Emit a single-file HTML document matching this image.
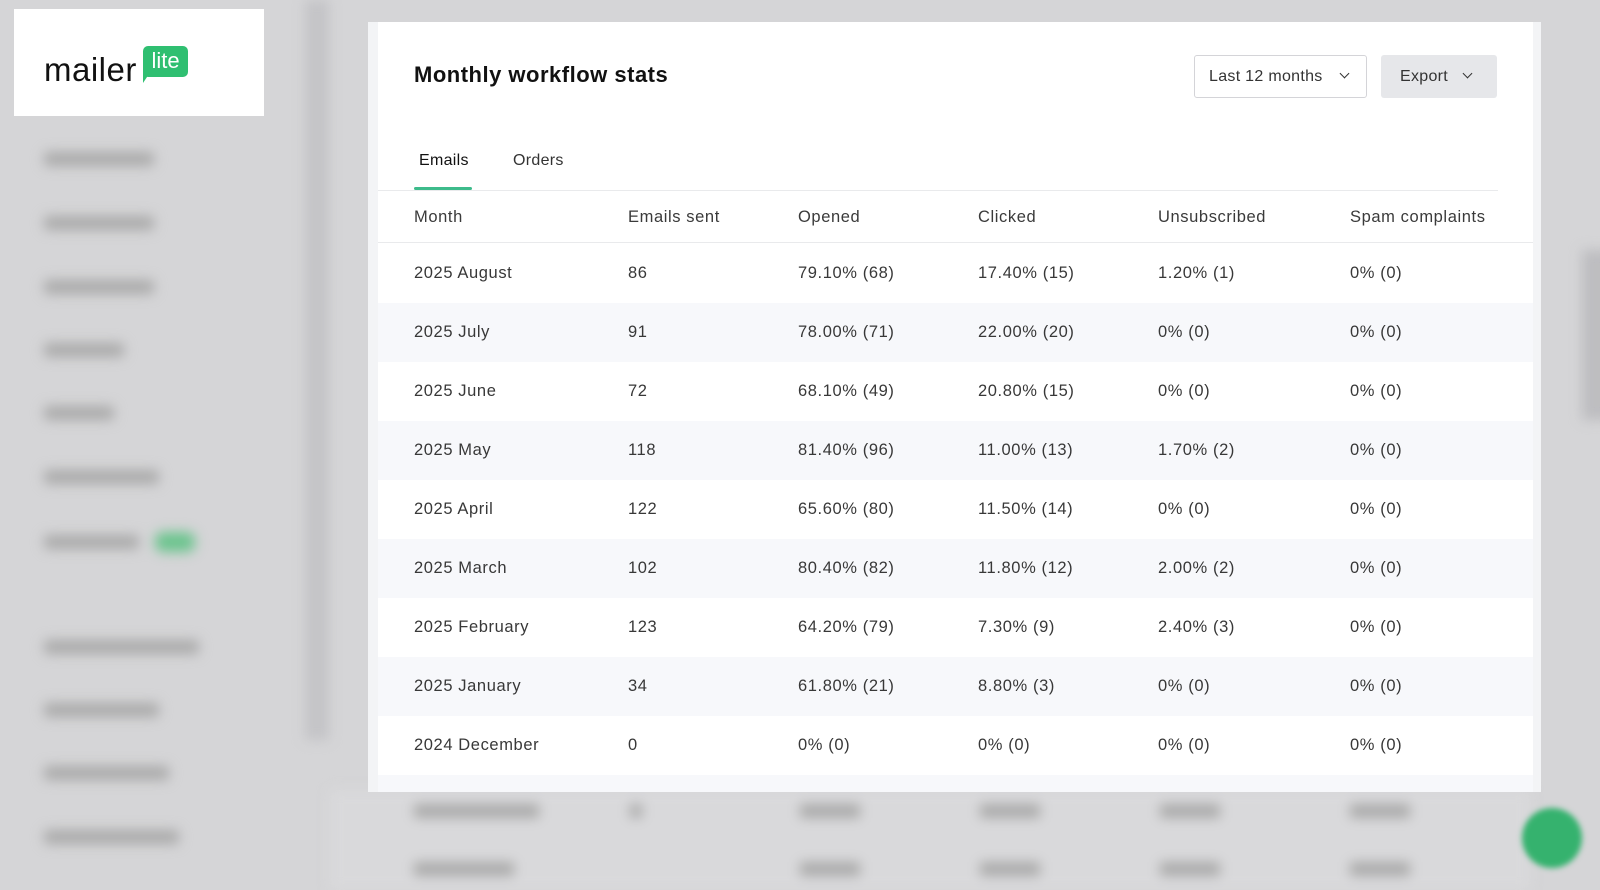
<!DOCTYPE html>
<html><head><meta charset="utf-8"><style>
*{margin:0;padding:0;box-sizing:border-box}
body{width:1600px;height:886px;background:#d5d5d7;position:relative;overflow:hidden;font-family:"Liberation Sans",sans-serif;color:#333}
.blur{filter:blur(6px);position:absolute}
.logo{position:absolute;left:14px;top:9px;width:250px;height:107px;background:#fff}
.logo .m{position:absolute;left:30px;top:42px;font-size:33px;color:#111;letter-spacing:0.5px}
.logo .l{position:absolute;left:129px;top:37px;width:45px;height:31px;background:#2fbf71;color:#fff;border-radius:5px;font-size:22px;text-align:center;line-height:29px}
.logo .t{position:absolute;left:129px;top:62px;width:0;height:0;border-left:8px solid #2fbf71;border-bottom:12px solid transparent}
.panel{position:absolute;left:368px;top:22px;width:1173px;height:770px;background:#f3f4f6}
.inner{position:absolute;left:10px;top:0;width:1155px;height:770px;background:#fff;overflow:hidden}
.title{position:absolute;left:36px;top:40px;font-size:22px;font-weight:bold;color:#111;letter-spacing:0.5px}
.sel{position:absolute;left:816px;top:33px;width:173px;height:43px;border:1px solid #d4d4d8;border-radius:3px;font-size:16px;line-height:41px;padding-left:14px;color:#333;letter-spacing:0.3px}
.exp{position:absolute;left:1003px;top:33px;width:116px;height:43px;background:#e6e7ea;border-radius:3px;font-size:16px;line-height:43px;padding-left:19px;color:#333;letter-spacing:0.3px}
.chev{position:absolute;top:15px;width:7px;height:7px;border-right:1.6px solid #333;border-bottom:1.6px solid #333;transform:rotate(45deg)}
.tab{position:absolute;top:130px;font-size:16px;color:#333;letter-spacing:0.3px}
.ul{position:absolute;left:36px;top:165px;width:58px;height:3px;background:#3dbb8b;border-radius:2px}
.div{position:absolute;left:0;top:168px;width:1120px;height:1px;background:#e9eaec}
.row{position:absolute;left:0;width:1155px;height:59px;font-size:16.5px;color:#383838;letter-spacing:0.6px}
.row span{position:absolute;top:0;line-height:59px;white-space:nowrap}
.hd{top:170px;height:51px;border-bottom:1px solid #e9eaec}
.hd span{line-height:51px;color:#3a3a3a}
.s{background:#f7f8fb}
</style></head><body>
<div class="blur" style="left:40px;top:150px;width:260px;height:700px">
<div style="position:absolute;left:4px;top:2px;width:110px;height:14px;background:#aaa;border-radius:4px"></div>
<div style="position:absolute;left:4px;top:66px;width:110px;height:14px;background:#aaa;border-radius:4px"></div>
<div style="position:absolute;left:4px;top:130px;width:110px;height:14px;background:#aaa;border-radius:4px"></div>
<div style="position:absolute;left:4px;top:193px;width:80px;height:14px;background:#aaa;border-radius:4px"></div>
<div style="position:absolute;left:4px;top:256px;width:70px;height:14px;background:#aaa;border-radius:4px"></div>
<div style="position:absolute;left:4px;top:320px;width:115px;height:14px;background:#aaa;border-radius:4px"></div>
<div style="position:absolute;left:4px;top:385px;width:95px;height:14px;background:#aaa;border-radius:4px"></div>
<div style="position:absolute;left:115px;top:382px;width:40px;height:20px;background:#6cc48e;border-radius:8px"></div>
<div style="position:absolute;left:4px;top:490px;width:155px;height:14px;background:#aaa;border-radius:4px"></div>
<div style="position:absolute;left:4px;top:553px;width:115px;height:14px;background:#aaa;border-radius:4px"></div>
<div style="position:absolute;left:4px;top:616px;width:125px;height:14px;background:#aaa;border-radius:4px"></div>
<div style="position:absolute;left:4px;top:680px;width:135px;height:14px;background:#aaa;border-radius:4px"></div>
</div>
<div class="blur" style="left:305px;top:0;width:24px;height:740px;background:#c4c4c7"></div>
<div class="blur" style="left:330px;top:790px;width:1200px;height:100px;background:#d9d9db">
<div style="position:absolute;left:84px;top:14px;width:125px;height:14px;background:#aaa"></div>
<div style="position:absolute;left:84px;top:72px;width:100px;height:14px;background:#aaa"></div>
<div style="position:absolute;left:300px;top:14px;width:12px;height:14px;background:#aaa"></div>
<div style="position:absolute;left:470px;top:14px;width:60px;height:14px;background:#aaa"></div>
<div style="position:absolute;left:650px;top:14px;width:60px;height:14px;background:#aaa"></div>
<div style="position:absolute;left:830px;top:14px;width:60px;height:14px;background:#aaa"></div>
<div style="position:absolute;left:1020px;top:14px;width:60px;height:14px;background:#aaa"></div>
<div style="position:absolute;left:470px;top:72px;width:60px;height:14px;background:#aaa"></div>
<div style="position:absolute;left:650px;top:72px;width:60px;height:14px;background:#aaa"></div>
<div style="position:absolute;left:830px;top:72px;width:60px;height:14px;background:#aaa"></div>
<div style="position:absolute;left:1020px;top:72px;width:60px;height:14px;background:#aaa"></div>
</div>
<div class="blur" style="left:1582px;top:250px;width:30px;height:170px;background:#bdbdc0"></div>
<div class="blur" style="left:1522px;top:808px;width:60px;height:60px;border-radius:50%;background:#35b26e;filter:blur(3px)"></div>
<div class="logo"><div class="m">mailer</div><div class="l">lite</div><div class="t"></div></div>
<div class="panel"><div class="inner">
<div class="title">Monthly workflow stats</div>
<div class="sel">Last 12 months<div class="chev" style="left:146px;top:14px"></div></div>
<div class="exp">Export<div class="chev" style="left:83px;top:15px"></div></div>
<div class="tab" style="left:41px;color:#111">Emails</div>
<div class="tab" style="left:135px">Orders</div>
<div class="ul"></div><div class="div"></div>
<div class="row hd"><span style="left:36px">Month</span><span style="left:250px">Emails sent</span><span style="left:420px">Opened</span><span style="left:600px">Clicked</span><span style="left:780px">Unsubscribed</span><span style="left:972px">Spam complaints</span></div>
<div class="row" style="top:222px"><span style="left:36px">2025 August</span><span style="left:250px">86</span><span style="left:420px">79.10% (68)</span><span style="left:600px">17.40% (15)</span><span style="left:780px">1.20% (1)</span><span style="left:972px">0% (0)</span></div>
<div class="row s" style="top:281px"><span style="left:36px">2025 July</span><span style="left:250px">91</span><span style="left:420px">78.00% (71)</span><span style="left:600px">22.00% (20)</span><span style="left:780px">0% (0)</span><span style="left:972px">0% (0)</span></div>
<div class="row" style="top:340px"><span style="left:36px">2025 June</span><span style="left:250px">72</span><span style="left:420px">68.10% (49)</span><span style="left:600px">20.80% (15)</span><span style="left:780px">0% (0)</span><span style="left:972px">0% (0)</span></div>
<div class="row s" style="top:399px"><span style="left:36px">2025 May</span><span style="left:250px">118</span><span style="left:420px">81.40% (96)</span><span style="left:600px">11.00% (13)</span><span style="left:780px">1.70% (2)</span><span style="left:972px">0% (0)</span></div>
<div class="row" style="top:458px"><span style="left:36px">2025 April</span><span style="left:250px">122</span><span style="left:420px">65.60% (80)</span><span style="left:600px">11.50% (14)</span><span style="left:780px">0% (0)</span><span style="left:972px">0% (0)</span></div>
<div class="row s" style="top:517px"><span style="left:36px">2025 March</span><span style="left:250px">102</span><span style="left:420px">80.40% (82)</span><span style="left:600px">11.80% (12)</span><span style="left:780px">2.00% (2)</span><span style="left:972px">0% (0)</span></div>
<div class="row" style="top:576px"><span style="left:36px">2025 February</span><span style="left:250px">123</span><span style="left:420px">64.20% (79)</span><span style="left:600px">7.30% (9)</span><span style="left:780px">2.40% (3)</span><span style="left:972px">0% (0)</span></div>
<div class="row s" style="top:635px"><span style="left:36px">2025 January</span><span style="left:250px">34</span><span style="left:420px">61.80% (21)</span><span style="left:600px">8.80% (3)</span><span style="left:780px">0% (0)</span><span style="left:972px">0% (0)</span></div>
<div class="row" style="top:694px"><span style="left:36px">2024 December</span><span style="left:250px">0</span><span style="left:420px">0% (0)</span><span style="left:600px">0% (0)</span><span style="left:780px">0% (0)</span><span style="left:972px">0% (0)</span></div>
<div class="row s" style="top:753px"></div>
</div></div>
</body></html>
